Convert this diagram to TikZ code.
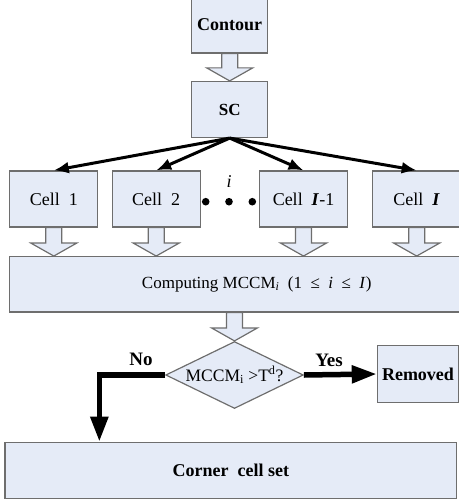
\documentclass[tikz,border=0pt]{standalone}
\usepackage{fontspec}
\setmainfont{Liberation Serif}
\usetikzlibrary{shapes.geometric,arrows.meta,calc}
\definecolor{boxfill}{RGB}{229,235,247}
\definecolor{boxline}{RGB}{110,110,110}
\newcommand{\hollowarrow}[2]{%
  \filldraw[hollow] ($(#1)+(-8,0)$) -- ($(#2)+(-8,-13)$) -- ($(#2)+(-23,-13)$) -- (#2)
    -- ($(#2)+(23,-13)$) -- ($(#2)+(8,-13)$) -- ($(#1)+(8,0)$) -- cycle;}

\begin{document}
\begin{tikzpicture}[x=1pt,y=-1pt,
  box/.style={draw=boxline, fill=boxfill, line width=1.2pt, inner sep=0pt,
    font=\fontsize{18}{20}\selectfont},
  cellbox/.style={box, minimum width=88pt, minimum height=56pt},
  hollow/.style={draw=boxline, fill=boxfill, line width=1.2pt},
  fan/.style={line width=3pt, -{Latex[length=15pt,width=12pt]}},
  fat/.style={line width=5.5pt, -{Triangle[length=25pt,width=17pt]}}]
\useasboundingbox (0,0) rectangle (458,503);
\node[box, minimum width=76pt, minimum height=56pt, font=\fontsize{18}{20}\selectfont\bfseries] (contour) at (229.7,25) {Contour};
\node[box, minimum width=76pt, minimum height=56pt, font=\fontsize{17}{20}\selectfont\bfseries] (sc) at (229.7,109.5) {SC};
\node[cellbox] (c1) at (53.8,199) {Cell\ \ 1};
\node[cellbox] (c2) at (156.2,199) {Cell\ \ 2};
\node[cellbox] (c3) at (303.5,199) {Cell\ \ \textbf{\textit{I}}-1};
\node[cellbox] (c4) at (416.7,199) {Cell\ \ \textbf{\textit{I}}};
\node[font=\fontsize{18}{20}\selectfont\itshape] (idx) at (229,182) {i};
\foreach \x in {205.7,229,252.3}
  \fill (\x,201.7) circle (3.8pt);
\node[box, minimum width=494.7pt, minimum height=55.3pt, font=\fontsize{17}{20}\selectfont] (comp) at (256.7,284.3)
  {Computing MCCM\textsubscript{\itshape i}\ \ (1\enspace≤\enspace\textit{i}\enspace≤\enspace\textit{I})};
\node[box, diamond, aspect=2.3, minimum width=133pt, minimum height=67pt, font=\fontsize{17.5}{18}\selectfont] (dec) at (234.5,375)
  {MCCM\textsubscript{i} >T\textsuperscript{d}?};
\node[box, minimum width=81.4pt, minimum height=56.6pt, font=\fontsize{18}{20}\selectfont\bfseries] (rem) at (418,374) {Removed};
\node[box, minimum width=451.7pt, minimum height=56pt, font=\fontsize{18}{20}\selectfont\bfseries] (corner) at (230.8,470.3) {Corner\ \ cell set};
\node[font=\fontsize{19}{20}\selectfont\bfseries] (no) at (141,359) {No};
\node[font=\fontsize{19}{20}\selectfont\bfseries] (yes) at (329,360) {Yes};
\hollowarrow{contour.south}{sc.north}
\foreach \c in {c1,c2,c3,c4}
  \hollowarrow{\c.south}{\c.south |- comp.north};
\hollowarrow{comp.south -| dec.north}{dec.north}
\foreach \c in {c1,c2,c3,c4}
  \draw[fan] (sc.south) -- (\c.north);
\draw[fat] (dec.east) -- (rem.west);
\draw[fat] (dec.west) -| ($(corner.north west)+(95,0)$);
\end{tikzpicture}
\end{document}
